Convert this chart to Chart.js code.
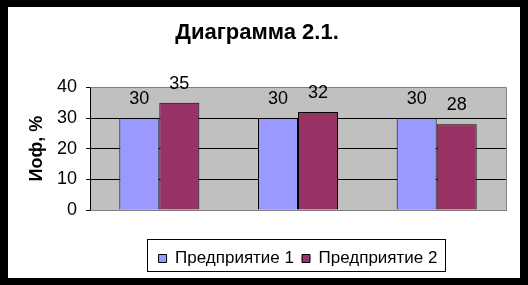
<!DOCTYPE html>
<html>
<head>
<meta charset="utf-8">
<script src="https://cdn.jsdelivr.net/npm/chart.js@4"></script>
<style>
  html, body { margin: 0; padding: 0; background: #fff; }
  #frame { position: relative; width: 528px; height: 285px; background: #000; }
  #wrap { position: absolute; left: 8px; top: 7px; width: 512px; height: 271px; background: #fff; }
</style>
</head>
<body>
<div id="frame"><div id="wrap"><canvas id="chart"></canvas></div></div>
<script>
const categories = ['', '', ''];
const seriesNames = ['Предприятие 1', 'Предприятие 2'];
const series1 = [30, 30, 30];
const series2 = [35, 32, 28];
const yTicks = [0, 10, 20, 30, 40];

Chart.defaults.font.family = '"Liberation Sans", Arial, sans-serif';
Chart.defaults.color = '#000';

// grey plot area with a darker edge, like the old office chart
const plotBg = {
  id: 'plotBg',
  beforeDraw(chart) {
    const { ctx, chartArea: a } = chart;
    ctx.save();
    ctx.fillStyle = '#c0c0c0';
    ctx.fillRect(a.left, a.top, a.right - a.left, a.bottom - a.top);
    ctx.restore();
  },
  beforeDatasetsDraw(chart) {
    const { ctx, chartArea: a } = chart;
    ctx.save();
    ctx.strokeStyle = '#808080';
    ctx.lineWidth = 1;
    ctx.beginPath();
    ctx.moveTo(Math.round(a.left) + 0.5, Math.round(a.top) + 0.5);
    ctx.lineTo(Math.round(a.right) + 0.5, Math.round(a.top) + 0.5);
    ctx.lineTo(Math.round(a.right) + 0.5, Math.round(a.bottom) + 0.5);
    ctx.lineTo(Math.round(a.left) + 0.5, Math.round(a.bottom) + 0.5);
    ctx.stroke();
    ctx.restore();
  }
};

// value labels above the bars
const valueLabels = {
  id: 'valueLabels',
  afterDatasetsDraw(chart) {
    const { ctx } = chart;
    ctx.save();
    ctx.font = '18px "Liberation Sans", Arial, sans-serif';
    ctx.fillStyle = '#000';
    ctx.textAlign = 'center';
    ctx.textBaseline = 'middle';
    chart.data.datasets.forEach((ds, i) => {
      chart.getDatasetMeta(i).data.forEach((bar, j) => {
        ctx.fillText(String(ds.data[j]), bar.x, bar.y - 19);
      });
    });
    ctx.restore();
  }
};

// legend centred under the plot, with a frame around it
const legendFrame = {
  id: 'legendFrame',
  afterUpdate(chart) {
    const lg = chart.legend;
    if (!lg) return;
    const a = chart.chartArea;
    const shift = (a.left + a.right) / 2 - (lg.left + lg.right) / 2;
    lg.left += shift;
    lg.right += shift;
    if (lg.adjustHitBoxes) lg.adjustHitBoxes();
  },
  afterDraw(chart) {
    const lg = chart.legend;
    if (!lg || !lg.lineWidths) return;
    const a = chart.chartArea;
    const cx = (a.left + a.right) / 2;
    const w = lg.lineWidths[0];
    const pad = lg.options.labels.padding;
    const { ctx } = chart;
    const x1 = Math.round(cx - w / 2 + pad / 2 - 12) + 0.5;
    const x2 = Math.round(cx + w / 2 - pad / 2 + 8) + 0.5;
    const y1 = 232.5;
    const y2 = 264.5;
    ctx.save();
    ctx.strokeStyle = '#000';
    ctx.lineWidth = 1;
    ctx.strokeRect(x1, y1, x2 - x1, y2 - y1);
    ctx.restore();
  }
};

new Chart(document.getElementById('chart'), {
  type: 'bar',
  data: {
    labels: categories,
    datasets: [
      {
        label: seriesNames[0],
        data: series1,
        backgroundColor: '#9999ff',
        borderColor: '#000',
        borderWidth: 1,
        barPercentage: 1,
        categoryPercentage: 0.577
      },
      {
        label: seriesNames[1],
        data: series2,
        backgroundColor: '#993366',
        borderColor: '#000',
        borderWidth: 1,
        barPercentage: 1,
        categoryPercentage: 0.577
      }
    ]
  },
  options: {
    responsive: true,
    maintainAspectRatio: false,
    animation: false,
    layout: { padding: { left: 0, right: 14, top: 13, bottom: 1 } },
    plugins: {
      title: {
        display: true,
        text: 'Диаграмма 2.1.',
        color: '#000',
        font: { size: 22, weight: 'bold' },
        padding: { top: 0, bottom: 41 }
      },
      legend: {
        position: 'bottom',
        labels: {
          boxWidth: 8,
          boxHeight: 8,
          padding: 8,
          color: '#000',
          font: { size: 17 }
        }
      },
      tooltip: { enabled: false }
    },
    scales: {
      x: {
        grid: { display: false },
        border: { color: '#808080' },
        ticks: { display: false },
        afterFit: (s) => { s.height = 32; }
      },
      y: {
        min: 0,
        max: 40,
        afterBuildTicks: (s) => { s.ticks = yTicks.map(v => ({ value: v })); },
        ticks: { padding: 9, font: { size: 18 }, color: '#000' },
        grid: {
          color: (c) => (c.tick && (c.tick.value === 0 || c.tick.value === 40)) ? '#808080' : '#000',
          tickColor: '#000',
          tickLength: 4
        },
        border: { color: '#000' },
        title: {
          display: true,
          text: 'Иоф, %',
          color: '#000',
          font: { size: 18, weight: 'bold' },
          padding: { top: 18, bottom: 0 }
        },
        afterFit: (s) => { s.width = 82; }
      }
    }
  },
  plugins: [plotBg, valueLabels, legendFrame]
});
</script>
</body>
</html>
